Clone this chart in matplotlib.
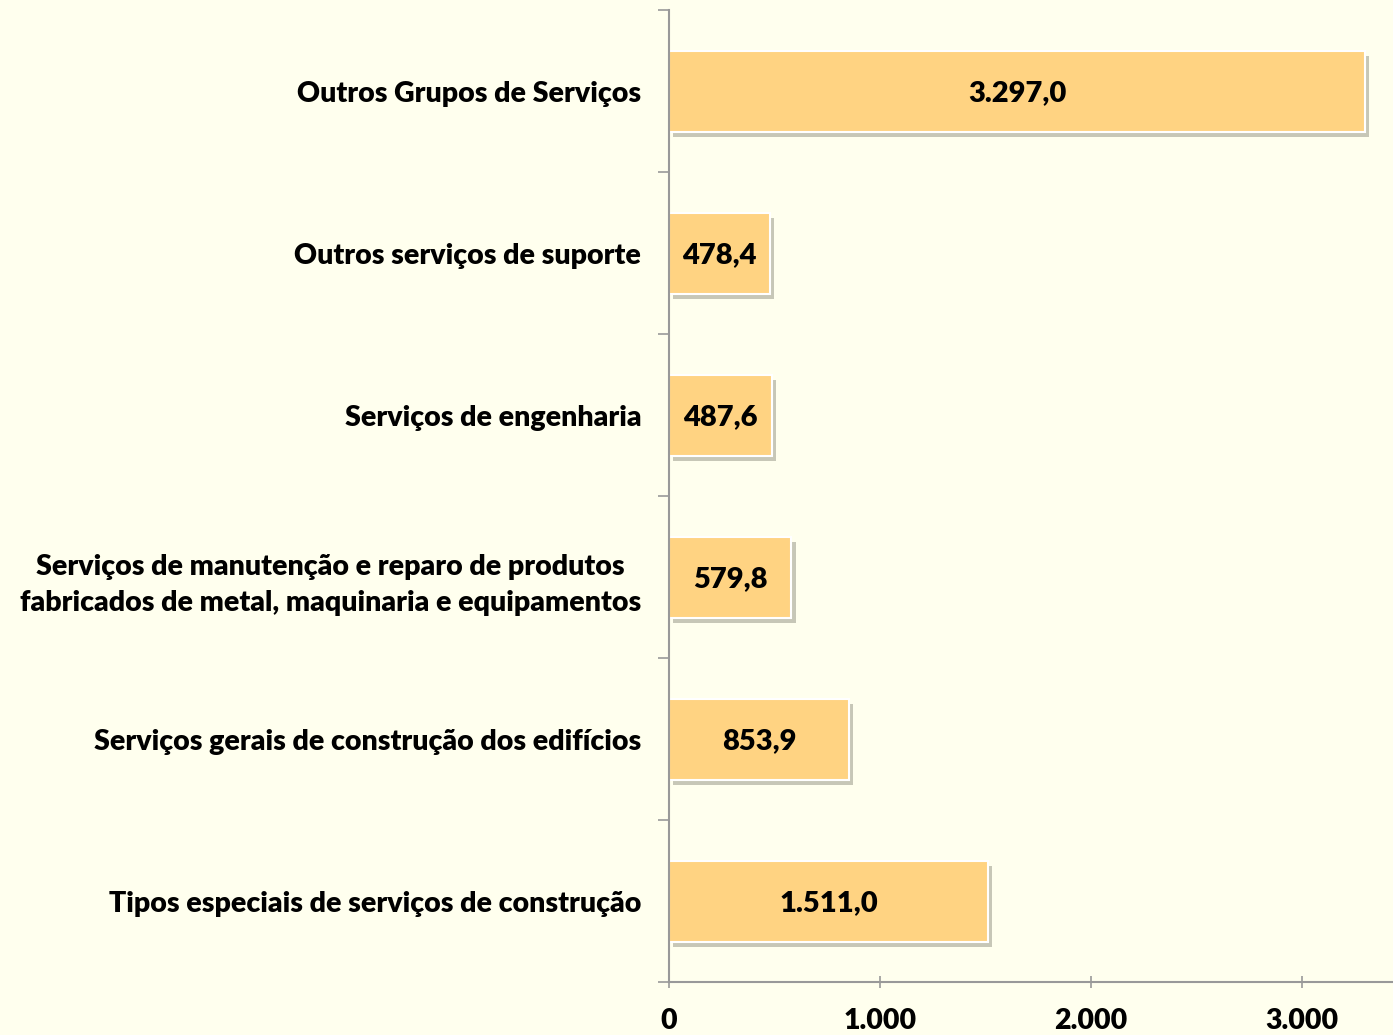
import matplotlib as mpl
mpl.use('Agg')
import matplotlib.pyplot as plt
import matplotlib.patheffects as pe
import numpy as np

categorias = [
    "Outros Grupos de Serviços",
    "Outros serviços de suporte",
    "Serviços de engenharia",
    "Serviços de manutenção e reparo de produtos\nfabricados de metal, maquinaria e equipamentos",
    "Serviços gerais de construção dos edifícios",
    "Tipos especiais de serviços de construção",
]
valores = [3297.0, 478.4, 487.6, 579.8, 853.9, 1511.0]
xticks = [0, 1000, 2000, 3000]

def fmt_br(v, dec=1):
    s = f"{v:,.{dec}f}"
    return s.replace(",", "X").replace(".", ",").replace("X", ".")

plt.rcParams['font.family'] = ['Lato', 'DejaVu Sans']

fundo = '#FFFFEE'
tam = 20.5
fig = plt.figure(figsize=(13.93, 10.35), dpi=100, facecolor=fundo)
ax = fig.add_axes([0.4803, 0.0512, 0.5197, 0.9391], facecolor=fundo)

y = np.arange(len(categorias))[::-1]
barras = ax.barh(y, valores, height=0.5, color='#FFD382', edgecolor='white', linewidth=1.5)
for b in barras:
    b.set_path_effects([pe.SimplePatchShadow(offset=(3, -4), shadow_rgbFace='#99998a', alpha=0.55), pe.Normal()])

for yi, v in zip(y, valores):
    ax.text(v / 2, yi - 0.01, fmt_br(v), ha='center', va='center', fontsize=21, fontweight='heavy', color='black')

ax.set_ylim(-0.5, len(categorias) - 0.5)
ax.set_xlim(0, 3430)
ax.set_yticks(y)
ax.set_yticklabels(categorias, fontsize=tam, fontweight='heavy', ha='right', multialignment='center', linespacing=1.5)
ax.tick_params(axis='y', which='major', length=0, pad=20)
ax.set_yticks(np.arange(-0.5, len(categorias), 1), minor=True)
ax.tick_params(axis='y', which='minor', length=8, color='#999999', width=1.2)

ax.set_xticks(xticks)
ax.set_xticklabels([fmt_br(t, 0) for t in xticks], fontsize=tam, fontweight='heavy')
ax.tick_params(axis='x', length=9, direction='inout', color='#999999', width=1.2, pad=14)

for s in ['top', 'right']:
    ax.spines[s].set_visible(False)
for s in ['left', 'bottom']:
    ax.spines[s].set_color('#999999')
    ax.spines[s].set_linewidth(1.5)

fig.savefig('out.png', dpi=100, facecolor=fundo)
